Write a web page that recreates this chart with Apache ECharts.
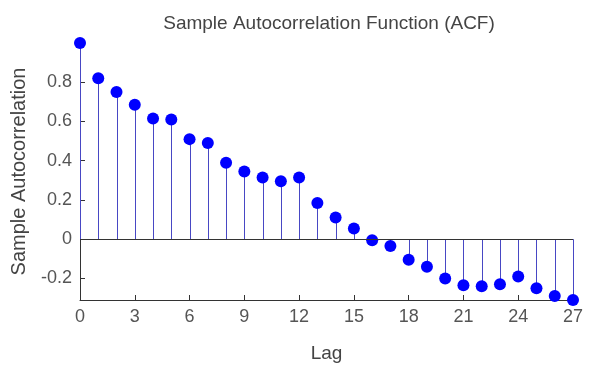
<!DOCTYPE html>
<html>
<head>
<meta charset="utf-8">
<script src="https://cdn.jsdelivr.net/npm/echarts@6/dist/echarts.min.js"></script>
<style>
  html, body { margin: 0; padding: 0; background: #fff; }
  #acf-chart { width: 595px; height: 368px; }
</style>
</head>
<body>
<div id="acf-chart"></div>
<script>
// lags 0..27 and sample autocorrelation values
var lags = [0, 1, 2, 3, 4, 5, 6, 7, 8, 9, 10, 11, 12, 13,
            14, 15, 16, 17, 18, 19, 20, 21, 22, 23, 24, 25, 26, 27];
var acf = [1.0, 0.82, 0.75, 0.685, 0.615, 0.61, 0.51, 0.49, 0.39, 0.345, 0.315, 0.295, 0.315, 0.185,
           0.11, 0.055, -0.005, -0.035, -0.105, -0.14, -0.2, -0.235, -0.24, -0.23, -0.19, -0.25, -0.29, -0.31];
var yTicks = [-0.2, 0, 0.2, 0.4, 0.6, 0.8];

var points = lags.map(function (l, i) { return [l, acf[i]]; });
var font = "'Liberation Sans', Arial, sans-serif";

var myChart = echarts.init(document.getElementById('acf-chart'));
myChart.setOption({
  backgroundColor: '#fff',
  animation: false,
  title: {
    text: 'Sample Autocorrelation Function (ACF)',
    left: 324,
    textAlign: 'center',
    top: 9,
    textStyle: { fontFamily: font, fontSize: 19, fontWeight: 'normal', color: '#444' }
  },
  grid: { left: 80, right: 22, top: 43, bottom: 65 },
  xAxis: {
    type: 'value',
    min: 0,
    max: 27,
    interval: 3,
    name: 'Lag',
    nameLocation: 'middle',
    nameGap: 44,
    nameTextStyle: { fontFamily: font, fontSize: 19, color: '#444' },
    axisLine: { onZero: false, lineStyle: { color: '#333', width: 1 } },
    axisTick: { inside: true, length: 5, lineStyle: { color: '#333' } },
    axisLabel: { margin: 8, fontFamily: font, fontSize: 18, color: '#555' },
    splitLine: { show: false }
  },
  yAxis: {
    type: 'value',
    min: -0.31,
    max: 1,
    name: 'Sample Autocorrelation',
    nameLocation: 'middle',
    nameGap: 51,
    nameTextStyle: { fontFamily: font, fontSize: 20, color: '#444' },
    axisLine: { show: true, lineStyle: { color: '#333', width: 1 } },
    axisTick: { inside: true, length: 5, customValues: yTicks, lineStyle: { color: '#333' } },
    axisLabel: { margin: 8, fontFamily: font, fontSize: 18, color: '#555', customValues: yTicks },
    splitLine: { show: false }
  },
  series: [
    {
      // stems from zero to each value
      type: 'custom',
      data: points,
      z: 1,
      renderItem: function (params, api) {
        var p0 = api.coord([api.value(0), 0]);
        var p1 = api.coord([api.value(0), api.value(1)]);
        var x = Math.round(p0[0]) + 0.5;
        return {
          type: 'line',
          shape: { x1: x, y1: p0[1], x2: x, y2: p1[1] },
          style: { stroke: '#4848c4', lineWidth: 1 }
        };
      },
      markLine: {
        silent: true,
        symbol: 'none',
        label: { show: false },
        lineStyle: { color: '#333', width: 1, type: 'solid' },
        data: [{ yAxis: 0 }]
      }
    },
    {
      type: 'scatter',
      data: points,
      z: 3,
      symbol: 'circle',
      symbolSize: 12,
      clip: false,
      itemStyle: { color: '#0000ff', opacity: 1 }
    }
  ]
});
</script>
</body>
</html>
